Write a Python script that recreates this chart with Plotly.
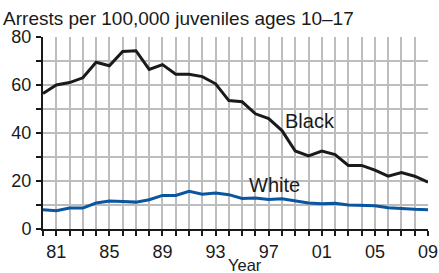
import plotly.graph_objects as go

years = list(range(1980, 2010))
black = [56.5, 60, 61, 63, 69.5, 68, 74, 74.3, 66.5, 68.5, 64.5, 64.5, 63.5, 60.5,
         53.5, 53, 48, 46, 41, 32.5, 30.5, 32.5, 31, 26.5, 26.5, 24.5, 22, 23.5, 22, 19.5]
white = [8, 7.6, 8.7, 8.7, 10.8, 11.7, 11.5, 11.2, 12.2, 14, 14, 15.7, 14.5, 15,
         14.3, 12.7, 12.9, 12.3, 12.6, 11.8, 10.8, 10.5, 10.7, 10, 10, 9.7, 8.9, 8.4, 8.2, 8]
tick_vals = [1981, 1985, 1989, 1993, 1997, 2001, 2005, 2009]
tick_text = ["81", "85", "89", "93", "97", "01", "05", "09"]
y_ticks = [0, 20, 40, 60, 80]

font = "Liberation Sans, Arial, sans-serif"
grid = "#bdbdbd"
ink = "#1a1a1a"

fig = go.Figure()
fig.add_trace(go.Scatter(x=years, y=black, mode="lines",
                         line=dict(color=ink, width=3), name="Black"))
fig.add_trace(go.Scatter(x=years, y=white, mode="lines",
                         line=dict(color="#0a55a0", width=3), name="White"))

fig.add_annotation(x=2000.1, y=45.2, text="Black", showarrow=False, xanchor="center",
                   yanchor="middle", font=dict(size=20, color=ink, family=font))
fig.add_annotation(x=1997.4, y=18.2, text="White", showarrow=False, xanchor="center",
                   yanchor="middle", font=dict(size=20, color=ink, family=font))
fig.add_annotation(xref="paper", yref="paper", x=0.525, y=-0.19, text="Year",
                   showarrow=False, xanchor="center", yanchor="middle",
                   font=dict(size=16.5, color=ink, family=font))

fig.update_layout(
    width=439, height=273,
    margin=dict(l=43, r=11, t=37, b=44),
    paper_bgcolor="white", plot_bgcolor="white",
    showlegend=False,
    font=dict(family=font, color=ink, size=17),
    title=dict(text="Arrests per 100,000 juveniles ages 10–17", x=0.007, xanchor="left",
               y=0.932, yanchor="middle", font=dict(size=19, family=font)),
)
fig.update_xaxes(range=[1980, 2009], tickvals=tick_vals, ticktext=tick_text,
                 showgrid=True, gridcolor=grid, gridwidth=1.5, automargin=False,
                 showline=True, linecolor=ink, linewidth=2,
                 ticks="outside", ticklen=5, tickwidth=1.5, tickcolor=ink,
                 tickfont=dict(size=18), zeroline=False,
                 minor=dict(dtick=1, tick0=1980, showgrid=True, gridcolor=grid,
                            gridwidth=1.5, ticks="outside", ticklen=5, tickcolor=ink,
                            tickwidth=1.5))
fig.update_yaxes(range=[0, 80], tickvals=y_ticks, showgrid=True, gridcolor=grid,
                 gridwidth=1.5, showline=True, linecolor=ink, linewidth=2, automargin=False,
                 ticks="outside", ticklen=5, tickwidth=1.5, tickcolor=ink,
                 tickfont=dict(size=18), zeroline=False, ticklabelstandoff=1,
                 minor=dict(dtick=10, tick0=0, showgrid=True, gridcolor=grid,
                            gridwidth=1.5, ticks="outside", ticklen=5, tickcolor=ink,
                            tickwidth=1.5))

fig.write_html("out.html", config={"displayModeBar": False},
               post_script="document.body.style.margin='0';")
